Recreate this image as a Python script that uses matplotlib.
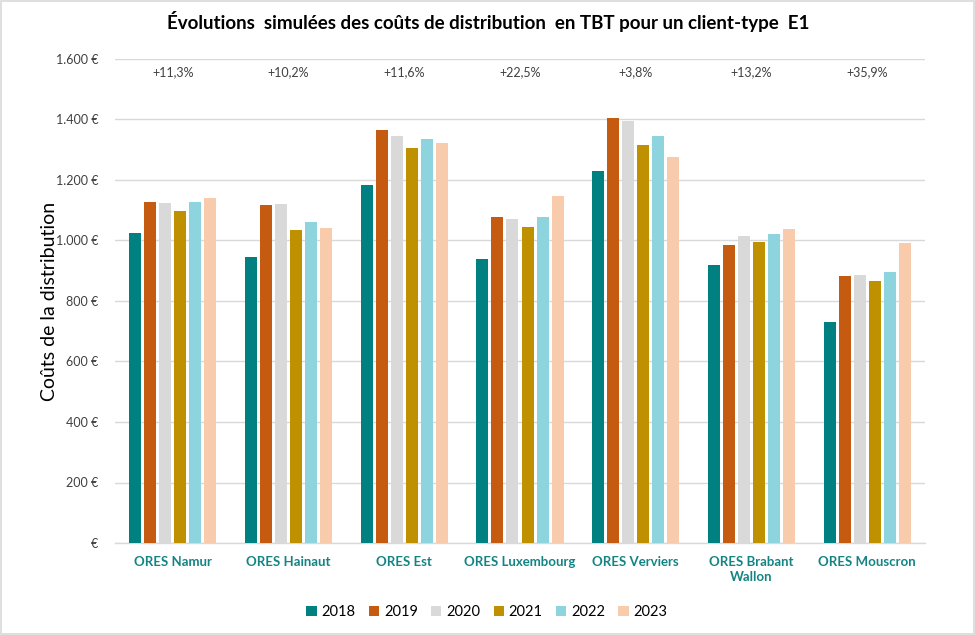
import matplotlib
matplotlib.use("Agg")
import matplotlib.pyplot as plt
import numpy as np
from matplotlib.patches import Rectangle

categories = ["ORES Namur", "ORES Hainaut", "ORES Est", "ORES Luxembourg",
              "ORES Verviers", "ORES Brabant\nWallon", "ORES Mouscron"]
years = ["2018", "2019", "2020", "2021", "2022", "2023"]
v2018 = [1025, 945, 1183, 939, 1230, 919, 731]
v2019 = [1127, 1117, 1365, 1078, 1405, 985, 883]
v2020 = [1124, 1120, 1345, 1071, 1395, 1015, 886]
v2021 = [1097, 1035, 1306, 1045, 1316, 995, 866]
v2022 = [1127, 1061, 1335, 1078, 1345, 1021, 896]
v2023 = [1140, 1041, 1322, 1147, 1276, 1038, 992]
pct_labels = ["+11,3%", "+10,2%", "+11,6%", "+22,5%", "+3,8%", "+13,2%", "+35,9%"]
yticks = [0, 200, 400, 600, 800, 1000, 1200, 1400, 1600]
ytick_labels = ["€", "200 €", "400 €", "600 €", "800 €", "1.000 €", "1.200 €", "1.400 €", "1.600 €"]

series = [v2018, v2019, v2020, v2021, v2022, v2023]
colors = ["#008080", "#C55A11", "#D9D9D9", "#BF9000", "#8DD4DE", "#F8CBAD"]

plt.rcParams['font.family'] = ['Lato', 'DejaVu Sans']

fig = plt.figure(figsize=(9.75, 6.35), dpi=100)
ax = fig.add_axes([115/975, 1 - 543/635, 810/975, (543 - 59)/635])

x = np.arange(len(categories))
bw = 0.104
stride = 0.13
for i, (vals, c, yr) in enumerate(zip(series, colors, years)):
    ax.bar(x + (i - 2.5) * stride, vals, width=bw, color=c, label=yr, zorder=3)

ax.set_ylim(0, 1600)
ax.set_xlim(-0.5, len(categories) - 0.5)
ax.set_yticks(yticks)
ax.set_yticklabels(ytick_labels, fontsize=9, color="#404040")
ax.yaxis.grid(True, color="#D9D9D9", linewidth=1, zorder=0)
ax.tick_params(axis='y', length=0, pad=12)
ax.set_xticks(x)
ax.set_xticklabels(categories, fontsize=9.5, fontweight='bold', color="#138484",
                   linespacing=1.35)
ax.tick_params(axis='x', length=0, pad=9)
for s in ["top", "right", "left"]:
    ax.spines[s].set_visible(False)
ax.spines["bottom"].set_color("#D9D9D9")
ax.spines["bottom"].set_linewidth(1)

for xi, p in zip(x, pct_labels):
    ax.text(xi, 1555, p, ha='center', va='center', fontsize=9, color="#404040")

ax.set_ylabel("Coûts de la distribution", fontsize=14, color="black", labelpad=-2)

fig.text(488/975, 1 - 22/635, "Évolutions  simulées des coûts de distribution  en TBT pour un client-type  E1",
         ha='center', va='center', fontsize=13.5, fontweight='bold', color="black")

handles, labels = ax.get_legend_handles_labels()
fig.legend(handles, labels, loc='center', bbox_to_anchor=(487/975, 1 - 612/635), ncol=6,
           frameon=False, fontsize=10.5, handlelength=0.7, handleheight=0.7,
           handletextpad=0.35, columnspacing=0.9)

fig.patches.append(Rectangle((0.001, 0.001), 0.998, 0.998, transform=fig.transFigure,
                             fill=False, edgecolor="#D9D9D9", linewidth=1.2))

fig.savefig("out.png", dpi=100)
